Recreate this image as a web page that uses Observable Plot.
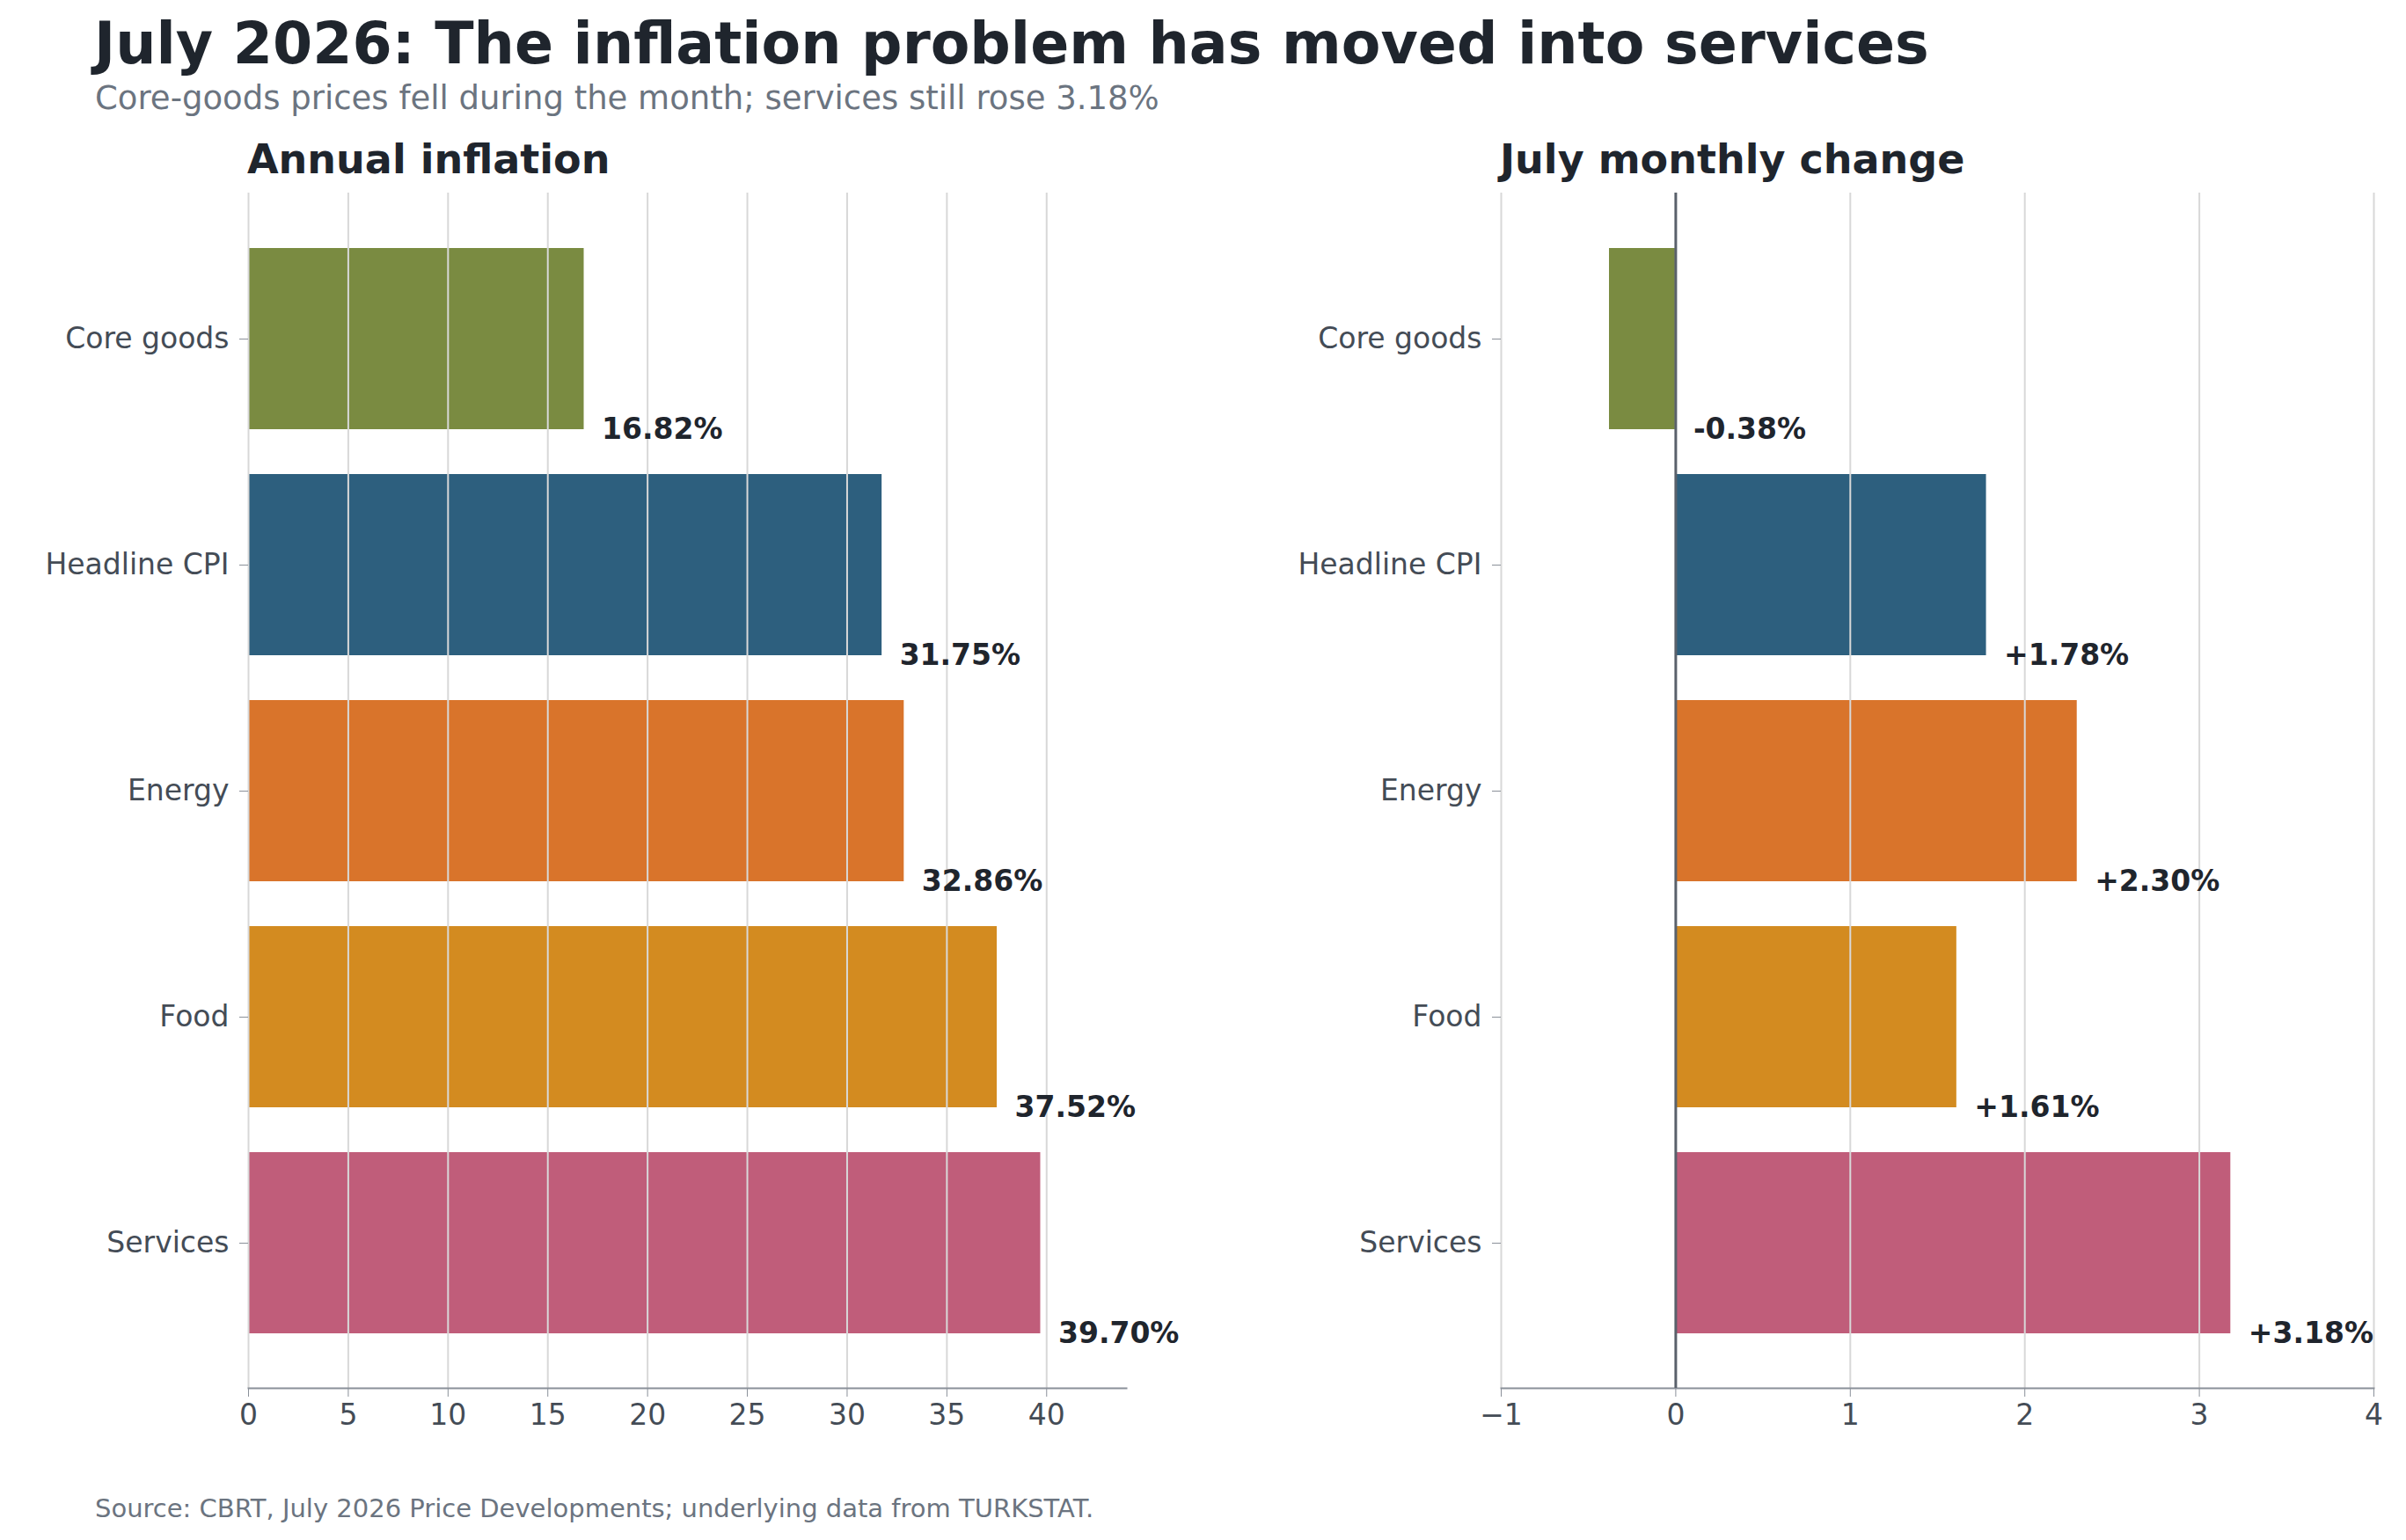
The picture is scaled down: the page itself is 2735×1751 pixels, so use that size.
<!DOCTYPE html>
<html><head><meta charset="utf-8">
<script src="https://cdn.jsdelivr.net/npm/d3@7"></script>
<script src="https://cdn.jsdelivr.net/npm/@observablehq/plot@0.6"></script>
<style>
body{margin:0;background:#fff;font-family:"DejaVu Sans",sans-serif;}
#wrap{position:relative;width:2735px;height:1751px;overflow:hidden;}
.t{position:absolute;white-space:nowrap;}
.p{position:absolute;top:200px;}
.p svg{overflow:visible;}
</style></head><body>
<div id="wrap">
<div class="t" style="left:107px;top:12px;font-size:65px;font-weight:bold;color:#1f252d">July 2026: The inflation problem has moved into services</div>
<div class="t" style="left:108px;top:90px;font-size:37px;color:#6b7480">Core-goods prices fell during the month; services still rose 3.18%</div>
<div class="t" style="left:281px;top:154px;font-size:46px;font-weight:bold;color:#1f252d">Annual inflation</div>
<div class="t" style="left:1705px;top:154px;font-size:46px;font-weight:bold;color:#1f252d">July monthly change</div>
<div class="t" style="left:108px;top:1698px;font-size:29px;color:#6b7480">Source: CBRT, July 2026 Price Developments; underlying data from TURKSTAT.</div>
<div class="p" id="left" style="left:0px"></div>
<div class="p" id="right" style="left:1400px"></div>
</div>
<script>
const categories = ["Core goods","Headline CPI","Energy","Food","Services"];
const annual = [16.82,31.75,32.86,37.52,39.70];
const monthly = [-0.38,1.78,2.30,1.61,3.18];
const colors = ["#7a8b41","#2d5f7e","#d9742b","#d38b20","#c05d7a"];
const leftTicks = [0,5,10,15,20,25,30,35,40];
const rightTicks = [-1,0,1,2,3,4];

function panel(values, domain, ticks, fmt, width, ml, mr, zero){
  const data = categories.map((c,i)=>({c, v:values[i], col:colors[i], lx:Math.max(values[i],0)}));
  const marks = [
    Plot.barX(data,{x1:0,x2:"v",y:"c",fill:"col"}),
    Plot.ruleX(ticks,{stroke:"#d8d8d8",strokeWidth:2}),
    Plot.text(data,{x:"lx",y:"c",text:d=>fmt(d.v),textAnchor:"start",dx:20,dy:103,fontWeight:"bold",fontSize:33,fill:"#1f252d"}),
    Plot.frame({anchor:"bottom",stroke:"#8a9099",strokeWidth:2}),
    Plot.axisX({ticks, tickFormat:d=>d<0?"−"+Math.abs(d):String(d), fontSize:33, color:"#444c56", tickSize:10, tickPadding:8, stroke:"#8a9099"}),
    Plot.axisY({fontSize:33, color:"#444c56", tickSize:10, tickPadding:12, stroke:"#8a9099"})
  ];
  if(zero) marks.push(Plot.ruleX([0],{stroke:"#5a616b",strokeWidth:3}));
  return Plot.plot({
    width, height:1460, marginTop:19, marginBottom:82, marginLeft:ml, marginRight:mr,
    style:{fontFamily:"DejaVu Sans", background:"transparent", overflow:"visible"},
    x:{domain, label:null},
    y:{domain:categories, label:null, paddingInner:0.2, paddingOuter:0.24},
    color:{type:"identity"},
    marks
  });
}
const L = panel(annual,[0,44],leftTicks,v=>v.toFixed(2)+"%",1300,282,20,false);
const R = panel(monthly,[-1,4],rightTicks,v=>(v>=0?"+":"")+v.toFixed(2)+"%",1335,306,37,true);
document.getElementById("left").appendChild(L);
document.getElementById("right").appendChild(R);
</script>
</body></html>
